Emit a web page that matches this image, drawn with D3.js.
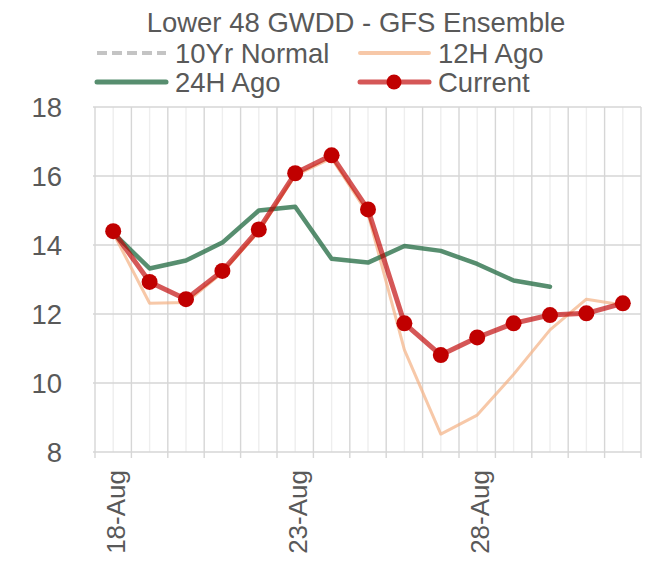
<!DOCTYPE html>
<html>
<head>
<meta charset="utf-8">
<script src="https://cdn.jsdelivr.net/npm/d3@7"></script>
<style>
  body { margin: 0; background: #fff; }
  text { font-family: "Liberation Sans", Arial, sans-serif; fill: #595959; }
</style>
</head>
<body>
<div id="chart"></div>
<script>
// days on the category axis
const days = ['18-Aug', '19-Aug', '20-Aug', '21-Aug', '22-Aug', '23-Aug', '24-Aug', '25-Aug',
  '26-Aug', '27-Aug', '28-Aug', '29-Aug', '30-Aug', '31-Aug', '1-Sep'];
const yTicks = [8, 10, 12, 14, 16, 18];

// series (GWDD)
const normal10yr = [];
const ago12h = [14.35, 12.31, 12.33, 13.2, 14.4, 16.02, 16.52, 14.9, 10.96, 8.52, 9.07, 10.25, 11.54, 12.43, 12.26];
const ago24h = [14.35, 13.32, 13.55, 14.07, 15.0, 15.11, 13.6, 13.49, 13.97, 13.83, 13.45, 12.97, 12.79];
const current = [14.4, 12.93, 12.43, 13.25, 14.45, 16.08, 16.6, 15.03, 11.73, 10.81, 11.32, 11.73, 11.97, 12.02, 12.31];

const width = 648;
const height = 566;
const margin = { top: 107, right: 7, bottom: 114, left: 95 };

const svg = d3.select('#chart')
  .append('svg')
  .attr('width', width)
  .attr('height', height);

const x = d3.scaleBand()
  .domain(days)
  .range([margin.left, width - margin.right])
  .padding(0);

const y = d3.scaleLinear()
  .domain([8, 18])
  .range([height - margin.bottom, margin.top]);

const bw = x.bandwidth();
const cx = d => x(d) + bw / 2;

// grid: light lines through the day centers, darker ones at day boundaries
const grid = svg.append('g');
grid.selectAll('.minor')
  .data(days)
  .enter().append('line')
  .attr('x1', d => cx(d)).attr('x2', d => cx(d))
  .attr('y1', y(18)).attr('y2', y(8))
  .attr('stroke', '#eeeeee')
  .attr('stroke-width', 1.4);

const bounds = days.map(d => x(d)).concat([x.range()[1]]);
grid.selectAll('.major')
  .data(bounds)
  .enter().append('line')
  .attr('x1', d => d).attr('x2', d => d)
  .attr('y1', y(18)).attr('y2', y(8) + 6)
  .attr('stroke', '#d6d6d6')
  .attr('stroke-width', 1.4);

grid.selectAll('.hgrid')
  .data(yTicks)
  .enter().append('line')
  .attr('x1', margin.left - 2).attr('x2', width - margin.right)
  .attr('y1', d => y(d)).attr('y2', d => y(d))
  .attr('stroke', '#d6d6d6')
  .attr('stroke-width', d => d === 8 ? 1.6 : 1.4);

// y axis labels
svg.append('g')
  .selectAll('text')
  .data(yTicks)
  .enter().append('text')
  .attr('x', 62)
  .attr('y', d => y(d))
  .attr('dy', '0.36em')
  .attr('text-anchor', 'end')
  .attr('font-size', 27.5)
  .text(d => d);

// x axis labels, every 5th day, rotated
svg.append('g')
  .selectAll('text')
  .data(days.filter((d, i) => i % 5 === 0))
  .enter().append('text')
  .attr('transform', d => `translate(${cx(d)}, ${y(8) + 18}) rotate(-90)`)
  .attr('dy', '0.45em')
  .attr('text-anchor', 'end')
  .attr('font-size', 26)
  .text(d => d);

const line = d3.line()
  .x((d, i) => cx(days[i]))
  .y(d => y(d));

svg.append('path')
  .datum(normal10yr)
  .attr('fill', 'none')
  .attr('stroke', '#c4c4c4')
  .attr('stroke-width', 4)
  .attr('stroke-dasharray', '10,5')
  .attr('d', line);

svg.append('path')
  .datum(ago12h)
  .attr('fill', 'none')
  .attr('stroke', 'rgba(244,177,131,0.7)')
  .attr('stroke-width', 3)
  .attr('stroke-linejoin', 'round')
  .attr('d', line);

svg.append('path')
  .datum(ago24h)
  .attr('fill', 'none')
  .attr('stroke', 'rgba(40,110,70,0.78)')
  .attr('stroke-width', 4.5)
  .attr('stroke-linejoin', 'round')
  .attr('stroke-linecap', 'round')
  .attr('d', line);

svg.append('path')
  .datum(current)
  .attr('fill', 'none')
  .attr('stroke', 'rgba(192,0,0,0.66)')
  .attr('stroke-width', 5)
  .attr('stroke-linejoin', 'round')
  .attr('d', line);

svg.append('g')
  .selectAll('circle')
  .data(current)
  .enter().append('circle')
  .attr('cx', (d, i) => cx(days[i]))
  .attr('cy', d => y(d))
  .attr('r', 8)
  .attr('fill', '#c00000');

// title
svg.append('text')
  .attr('x', 356)
  .attr('y', 32)
  .attr('text-anchor', 'middle')
  .attr('font-size', 27.5)
  .text('Lower 48 GWDD - GFS Ensemble');

// legend
const legend = [
  { name: '10Yr Normal', col: 0, row: 0, stroke: '#c4c4c4', w: 4, dash: '10,5', marker: false },
  { name: '12H Ago', col: 1, row: 0, stroke: 'rgba(244,177,131,0.7)', w: 4, dash: null, marker: false },
  { name: '24H Ago', col: 0, row: 1, stroke: 'rgba(40,110,70,0.78)', w: 5, dash: null, marker: false },
  { name: 'Current', col: 1, row: 1, stroke: 'rgba(192,0,0,0.66)', w: 5, dash: null, marker: true }
];
const colX = [97, 360];
const rowY = [53, 82];

const lg = svg.append('g').selectAll('g')
  .data(legend)
  .enter().append('g')
  .attr('transform', d => `translate(${colX[d.col]}, ${rowY[d.row]})`);

lg.append('line')
  .attr('x1', 0).attr('x2', 69)
  .attr('stroke', d => d.stroke)
  .attr('stroke-width', d => d.w)
  .attr('stroke-linecap', d => d.dash ? 'butt' : 'round')
  .attr('stroke-dasharray', d => d.dash);

lg.filter(d => d.marker)
  .append('circle')
  .attr('cx', 34)
  .attr('r', 7.5)
  .attr('fill', '#c00000');

lg.append('text')
  .attr('x', 78)
  .attr('dy', '0.36em')
  .attr('font-size', 27.5)
  .text(d => d.name);
</script>
</body>
</html>
